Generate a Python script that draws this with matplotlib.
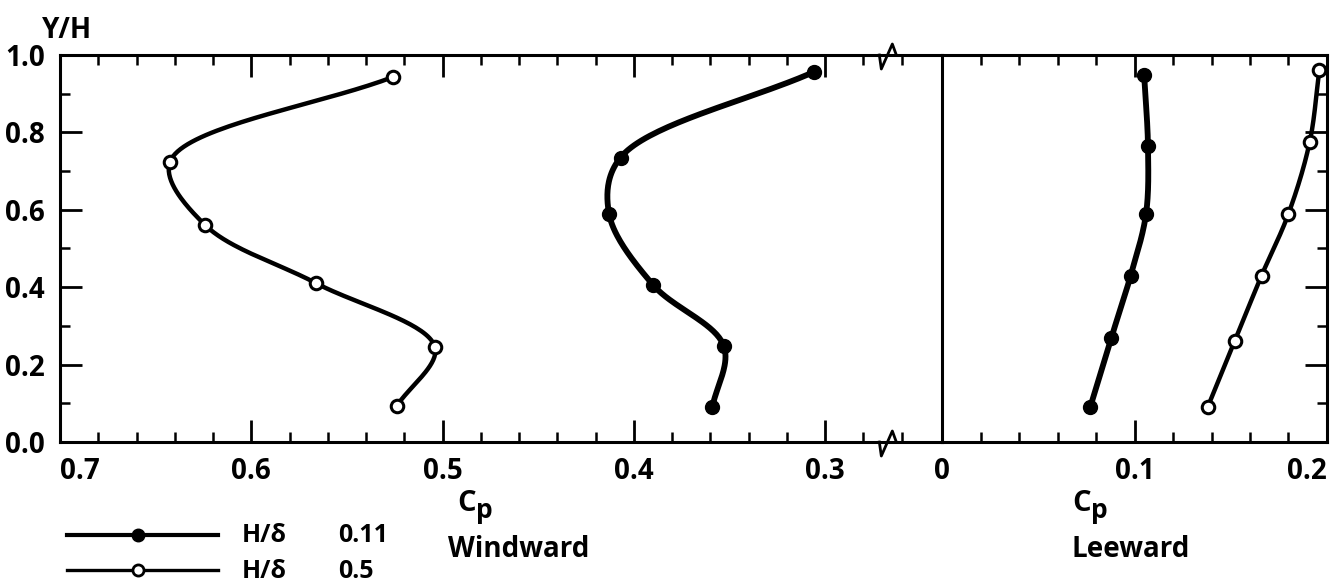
import numpy as np
import matplotlib
matplotlib.use("Agg")
import matplotlib.pyplot as plt
from matplotlib.lines import Line2D
from matplotlib.ticker import MultipleLocator, FixedLocator

plt.rcParams['font.family'] = ['Open Sans', 'DejaVu Sans']
plt.rcParams['font.weight'] = 'bold'

# windward values (H/delta = 0.11 filled, 0.5 open)
ww_y_filled = [0.09, 0.248, 0.406, 0.59, 0.735, 0.956]
ww_cp_filled = [0.359, 0.353, 0.390, 0.413, 0.407, 0.306]
ww_y_open = [0.093, 0.245, 0.41, 0.56, 0.724, 0.943]
ww_cp_open = [0.524, 0.504, 0.566, 0.624, 0.6425, 0.526]

# leeward values
lw_y_filled = [0.09, 0.27, 0.43, 0.59, 0.765, 0.948]
lw_cp_filled = [0.077, 0.088, 0.098, 0.106, 0.107, 0.105]
lw_y_open = [0.09, 0.26, 0.43, 0.59, 0.775, 0.96]
lw_cp_open = [0.138, 0.152, 0.166, 0.180, 0.191, 0.196]

ww_ticks = [0.7, 0.6, 0.5, 0.4, 0.3]
ww_ticklabels = ['0.7', '0.6', '0.5', '0.4', '0.3']
lw_ticks = [0, 0.1, 0.2]
lw_ticklabels = ['0', '0.1', '0.2']
y_ticks = [0.0, 0.2, 0.4, 0.6, 0.8, 1.0]
y_ticklabels = ['0.0', '0.2', '0.4', '0.6', '0.8', '1.0']

W, H = 1335, 584


def fx(px):
    return px / W


def fy(py):
    return 1 - py / H


def smooth(xs, ys, n=40):
    # centripetal Catmull-Rom through the read points (in pixel-like units)
    P = np.column_stack([np.array(xs) * 1913, np.array(ys) * 387]).astype(float)
    P = np.vstack([2 * P[0] - P[1], P, 2 * P[-1] - P[-2]])
    out = []
    for i in range(1, len(P) - 2):
        p0, p1, p2, p3 = P[i - 1], P[i], P[i + 1], P[i + 2]
        t0 = 0.0
        t1 = t0 + np.linalg.norm(p1 - p0) ** 0.5
        t2 = t1 + np.linalg.norm(p2 - p1) ** 0.5
        t3 = t2 + np.linalg.norm(p3 - p2) ** 0.5
        t = np.linspace(t1, t2, n)[:, None]
        a1 = (t1 - t) / (t1 - t0) * p0 + (t - t0) / (t1 - t0) * p1
        a2 = (t2 - t) / (t2 - t1) * p1 + (t - t1) / (t2 - t1) * p2
        a3 = (t3 - t) / (t3 - t2) * p2 + (t - t2) / (t3 - t2) * p3
        b1 = (t2 - t) / (t2 - t0) * a1 + (t - t0) / (t2 - t0) * a2
        b2 = (t3 - t) / (t3 - t1) * a2 + (t - t1) / (t3 - t1) * a3
        c = (t2 - t) / (t2 - t1) * b1 + (t - t1) / (t2 - t1) * b2
        out.append(c)
    c = np.vstack(out)
    return c[:, 0] / 1913, c[:, 1] / 387


fig = plt.figure(figsize=(13.35, 5.84), dpi=100)
bot = fy(442)
hgt = 387 / H
ax1 = fig.add_axes([fx(60), bot, fx(942 - 60), hgt])
ax2 = fig.add_axes([fx(942), bot, fx(1327 - 942), hgt])

ax1.set_xlim(0.7, 0.7 - 882 / 1913)
ax2.set_xlim(0, 0.2)
for ax in (ax1, ax2):
    ax.set_ylim(0, 1.0)
    for s in ax.spines.values():
        s.set_linewidth(2.2)
    ax.yaxis.set_major_locator(FixedLocator(y_ticks))
    ax.yaxis.set_minor_locator(MultipleLocator(0.1))
    ax.tick_params(which='major', direction='in', length=16, width=2.0,
                   top=True, bottom=True, labelsize=20, pad=11)
    ax.tick_params(which='minor', direction='in', length=7, width=1.8,
                   top=True, bottom=True)

ax1.tick_params(which='both', left=True, right=False)
ax2.tick_params(which='both', left=False, right=True, labelleft=False)
ax1.spines['right'].set_visible(False)

ax1.xaxis.set_major_locator(FixedLocator(ww_ticks))
ax1.xaxis.set_minor_locator(FixedLocator(np.arange(0.68, 0.25, -0.02)))
ax1.set_xticklabels(ww_ticklabels)
ax1.set_yticklabels(y_ticklabels)
ax2.xaxis.set_major_locator(FixedLocator(lw_ticks))
ax2.xaxis.set_minor_locator(MultipleLocator(0.02))
ax2.set_xticklabels(lw_ticklabels)
ax1.get_xticklabels()[0].set_horizontalalignment('left')
ax2.get_xticklabels()[-1].set_horizontalalignment('right')

for lab in ax1.get_xticklabels() + ax1.get_yticklabels() + ax2.get_xticklabels():
    lab.set_fontweight('bold')

# curves
for ax, xs, ys, filled in [(ax1, ww_cp_filled, ww_y_filled, True),
                           (ax1, ww_cp_open, ww_y_open, False),
                           (ax2, lw_cp_filled, lw_y_filled, True),
                           (ax2, lw_cp_open, lw_y_open, False)]:
    cx, cy = smooth(xs, ys)
    ax.plot(cx, cy, color='black', lw=4.2 if filled else 3.2,
            solid_capstyle='round', zorder=3)
    if filled:
        ax.plot(xs, ys, 'o', color='black', ms=10, zorder=4, clip_on=False)
    else:
        ax.plot(xs, ys, 'o', mfc='white', mec='black', mew=2.2, ms=9,
                zorder=4, clip_on=False)

# axis break marks
xb = 0.267
bx = [-9, -7, 4, 8]
by = [0, -14, 11, 0]
for yb in (0, 1):
    ax1.plot([xb - d / 1913 for d in bx], [yb + d / 387 for d in by],
             color='black', lw=2.0, transform=ax1.get_xaxis_transform(),
             clip_on=False, zorder=5)

# labels
fig.text(fx(42), fy(38), 'Y/H', fontsize=20, fontweight='bold', ha='left', va='baseline')
for x0, word in [(457, 'Windward'), (1072, 'Leeward')]:
    fig.text(fx(x0), fy(511), 'C', fontsize=21, fontweight='bold', ha='left', va='baseline')
    fig.text(fx(x0 + 19), fy(518), 'p', fontsize=19, fontweight='bold', ha='left', va='baseline')
    fig.text(fx(x0 - 9 if word == 'Windward' else x0), fy(557), word, fontsize=20,
             fontweight='bold', ha='left', va='baseline')

# legend
for row_y, filled, val in [(535, True, '0.11'), (570, False, '0.5')]:
    fig.add_artist(Line2D([fx(67), fx(218)], [fy(row_y), fy(row_y)],
                          transform=fig.transFigure, color='black',
                          lw=3.0 if filled else 2.4))
    if filled:
        fig.add_artist(Line2D([fx(138)], [fy(row_y)], transform=fig.transFigure,
                              marker='o', color='black', ms=9))
    else:
        fig.add_artist(Line2D([fx(138)], [fy(row_y)], transform=fig.transFigure,
                              marker='o', mfc='white', mec='black', mew=2, ms=8))
    fig.text(fx(242), fy(row_y + 1), 'H/δ', fontsize=18, fontweight='bold', ha='left', va='center')
    fig.text(fx(338), fy(row_y + 1), val, fontsize=18, fontweight='bold', ha='left', va='center')

fig.savefig('out.png', dpi=100)
